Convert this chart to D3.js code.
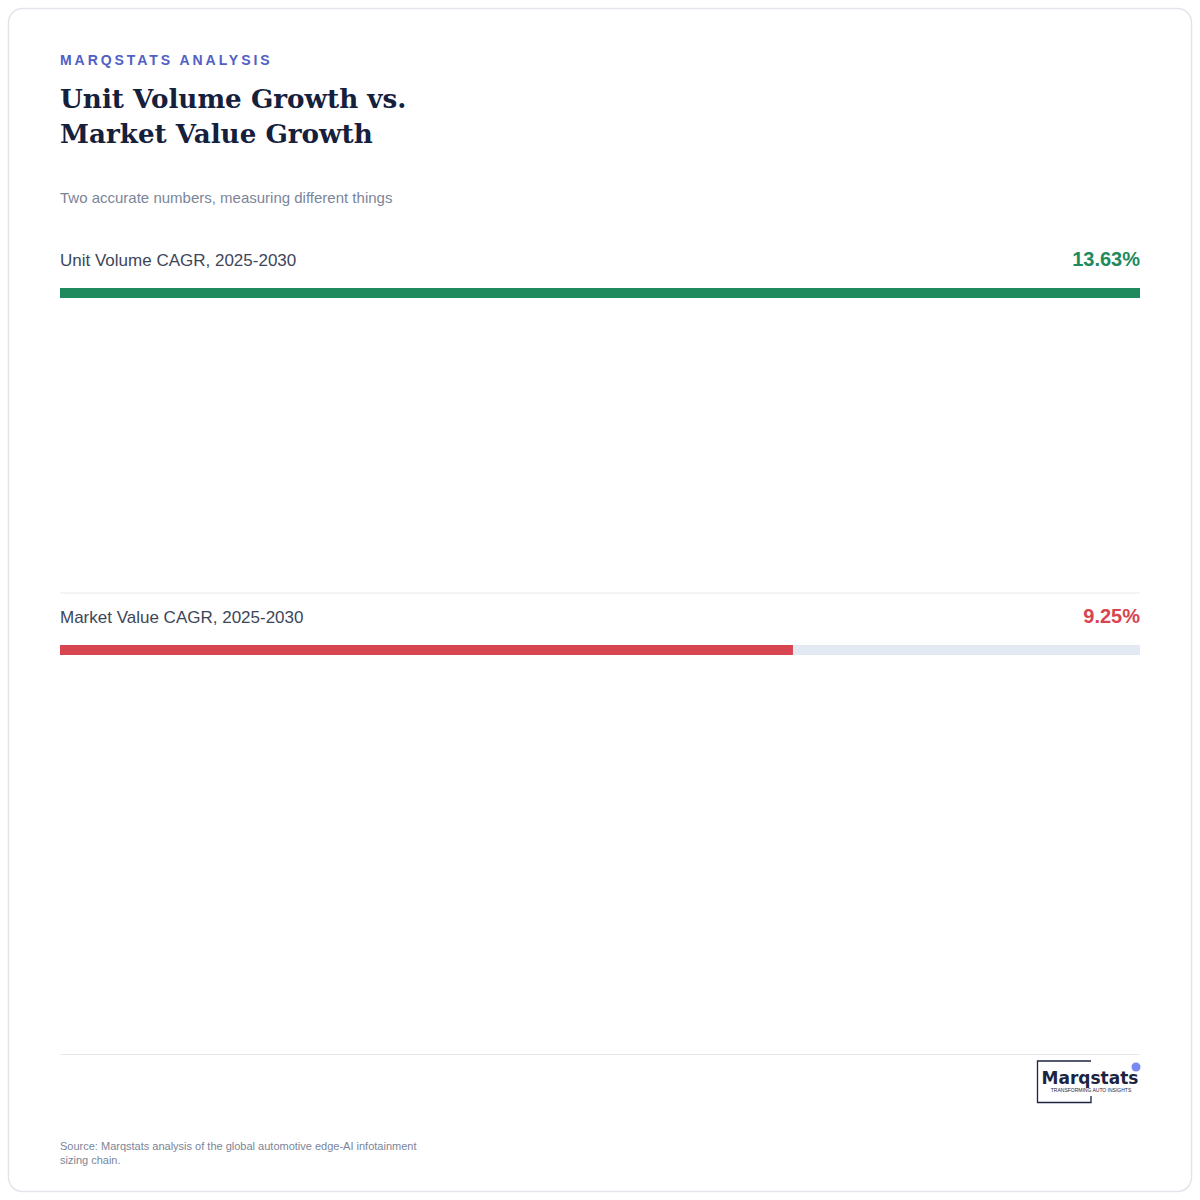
<!DOCTYPE html>
<html><head><meta charset="utf-8">
<script src="https://cdn.jsdelivr.net/npm/d3@7"></script>
<style>body{margin:0;background:#fff}svg{display:block}</style>
</head><body>
<script>
const categories = ["Unit Volume CAGR, 2025-2030", "Market Value CAGR, 2025-2030"];
const values = [13.63, 9.25];
const valueLabels = ["13.63%", "9.25%"];
const colors = ["#1e8a5e", "#d64550"];

const svg = d3.select("body").append("svg").attr("width",1200).attr("height",1200);
const sans = "Liberation Sans, Arial, sans-serif";
svg.append("rect").attr("x",8.5).attr("y",8.5).attr("width",1183).attr("height",1183).attr("rx",14)
  .attr("fill","#fff").attr("stroke","#e2e5ea").attr("stroke-width",1.5);

svg.append("text").attr("x",60).attr("y",65).text("MARQSTATS ANALYSIS")
  .attr("font-family",sans).attr("font-size",14).attr("font-weight",700).attr("letter-spacing",2.95).attr("fill","#5060c4");
["Unit Volume Growth vs.","Market Value Growth"].forEach((t,i)=>
  svg.append("text").attr("x",60).attr("y",108+i*35).text(t)
   .attr("font-family","DejaVu Serif, serif").attr("font-size",26.2).attr("font-weight",700).attr("fill","#15203d"));
svg.append("text").attr("x",60).attr("y",203).text("Two accurate numbers, measuring different things")
  .attr("font-family",sans).attr("font-size",15).attr("fill","#7b8599");

const x = d3.scaleLinear().domain([0, d3.max(values)]).range([60,1140]);
const rowY = d3.scalePoint().domain(categories).range([288,645]);

categories.forEach((c,i)=>{
  const y = rowY(c);
  if(i>0) svg.append("line").attr("x1",60).attr("x2",1140).attr("y1",y-52).attr("y2",y-52).attr("stroke","#e6e8ec");
  svg.append("text").attr("x",60).attr("y",y-22).text(c).attr("font-family",sans).attr("font-size",17).attr("fill","#3d4659");
  svg.append("text").attr("x",1140).attr("y",y-22).attr("text-anchor","end").text(valueLabels[i])
    .attr("font-family",sans).attr("font-size",20).attr("font-weight",700).attr("fill",colors[i]);
  svg.append("rect").attr("x",60).attr("y",y).attr("width",1080).attr("height",10).attr("fill","#e3e9f3");
  svg.append("rect").attr("x",60).attr("y",y).attr("width",x(values[i])-60).attr("height",10).attr("fill",colors[i]);
});

svg.append("line").attr("x1",60).attr("x2",1140).attr("y1",1054.5).attr("y2",1054.5).attr("stroke","#e6e8ec");
const g = svg.append("g");
g.append("path").attr("d","M1091,1061 H1037.5 V1102.5 H1091 V1096").attr("fill","none").attr("stroke","#1b2440").attr("stroke-width",1.3);
g.append("circle").attr("cx",1136).attr("cy",1067).attr("r",4.5).attr("fill","#5a6cf0").attr("opacity",0.8);
g.append("text").attr("x",1090).attr("y",1084).attr("text-anchor","middle").text("Marqstats")
  .attr("font-family","DejaVu Sans, sans-serif").attr("font-size",17).attr("font-weight",600).attr("fill","#1b2440");
g.append("text").attr("x",1091).attr("y",1092).attr("text-anchor","middle").text("TRANSFORMING AUTO INSIGHTS")
  .attr("font-family",sans).attr("font-size",5).attr("fill","#1b2440");

["Source: Marqstats analysis of the global automotive edge-AI infotainment","sizing chain."].forEach((t,i)=>
  svg.append("text").attr("x",60).attr("y",1150+i*14).text(t).attr("font-family",sans).attr("font-size",11).attr("fill","#7b8599"));
</script>
</body></html>
